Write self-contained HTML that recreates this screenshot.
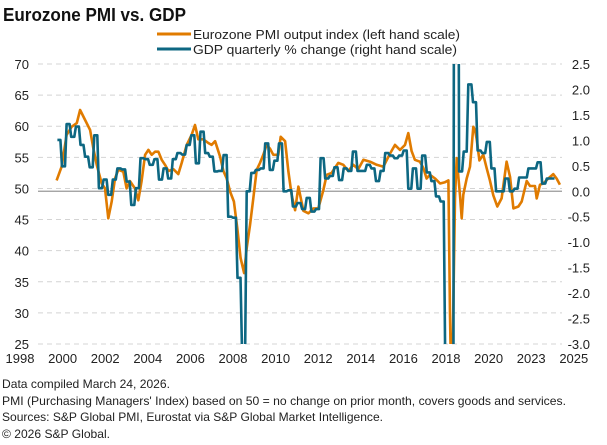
<!DOCTYPE html>
<html><head><meta charset="utf-8"><style>
html,body{margin:0;background:#fff;width:607px;height:445px;overflow:hidden;}
svg{display:block;font-family:"Liberation Sans",Arial,sans-serif;}
</style></head><body>
<svg id="chart" width="607" height="445" viewBox="0 0 607 445" xmlns="http://www.w3.org/2000/svg">
<text x="3" y="21" font-size="18" font-weight="bold" fill="#111" textLength="183" lengthAdjust="spacingAndGlyphs">Eurozone PMI vs. GDP</text>
<g>
<line x1="157" y1="34" x2="191" y2="34" stroke="#e07b00" stroke-width="3"/>
<text x="193" y="39" font-size="13" fill="#222" textLength="267" lengthAdjust="spacingAndGlyphs">Eurozone PMI output index (left hand scale)</text>
<line x1="157" y1="49" x2="191" y2="49" stroke="#0d6782" stroke-width="3"/>
<text x="193" y="54" font-size="13" fill="#222" textLength="264" lengthAdjust="spacingAndGlyphs">GDP quarterly % change (right hand scale)</text>
</g>
<g id="grid"></g><g id="axes"></g>
<defs><clipPath id="plotclip"><rect x="38" y="64" width="524" height="280"/></clipPath></defs>
<g id="series" clip-path="url(#plotclip)"></g>
<g font-size="12" fill="#222">
<text x="2" y="388" textLength="168" lengthAdjust="spacingAndGlyphs">Data compiled March 24, 2026.</text>
<text x="2" y="405" textLength="564" lengthAdjust="spacingAndGlyphs">PMI (Purchasing Managers' Index) based on 50 = no change on prior month, covers goods and services.</text>
<text x="2" y="421" textLength="381" lengthAdjust="spacingAndGlyphs">Sources: S&amp;P Global PMI, Eurostat via S&amp;P Global Market Intelligence.</text>
<text x="2" y="438" textLength="108" lengthAdjust="spacingAndGlyphs">© 2026 S&amp;P Global.</text>
</g>
</svg>
<script>
const leftTicks=[70,65,60,55,50,45,40,35,30,25];
const rightTicks=[2.5,2.0,1.5,1.0,0.5,0.0,-0.5,-1.0,-1.5,-2.0,-2.5,-3.0];
const xLabels=["1998","2000","2002","2004","2006","2008","2010","2012","2014","2016","2018","2020","2023","2025"];
const pmiDates=[1998.90,1999.17,1999.44,1999.71,1999.99,2000.17,2000.44,2000.71,2000.89,2001.07,2001.34,2001.52,2001.70,2001.88,2002.06,2002.24,2002.51,2002.69,2002.87,2003.14,2003.32,2003.50,2003.69,2003.87,2004.05,2004.23,2004.41,2004.59,2004.77,2004.95,2005.22,2005.49,2005.67,2005.94,2006.21,2006.39,2006.57,2006.84,2007.11,2007.29,2007.48,2007.75,2007.93,2008.11,2008.29,2008.50,2008.68,2008.86,2009.05,2009.19,2009.37,2009.55,2009.73,2009.91,2010.09,2010.27,2010.45,2010.63,2010.90,2011.03,2011.27,2011.45,2011.63,2011.81,2011.99,2012.26,2012.53,2012.80,2013.07,2013.34,2013.52,2013.79,2014.15,2014.42,2014.69,2014.96,2015.23,2015.51,2015.87,2016.23,2016.59,2016.95,2017.22,2017.49,2017.76,2017.94,2018.12,2018.30,2018.57,2018.75,2018.93,2019.11,2019.39,2019.66,2019.93,2020.11,2020.20,2020.29,2020.38,2020.47,2020.56,2020.74,2020.83,2020.92,2021.10,2021.28,2021.46,2021.55,2021.64,2021.79,2022.00,2022.18,2022.36,2022.54,2022.76,2022.99,2023.26,2023.45,2023.63,2023.90,2024.08,2024.35,2024.53,2024.80,2024.89,2025.07,2025.25,2025.52,2025.79,2025.97,2026.15];
const pmiValues=[51.3,53.5,58.6,59.9,60.5,62.6,61,59.4,56.4,53.8,50.8,50,45.2,47.9,51.6,53,52.7,50,51.2,50,48.1,51.2,55.4,56.2,55.4,55.9,55.9,54.6,53.8,52.8,53.1,52.3,54.1,57,58.6,60.2,57.9,57.9,57.3,57,57.6,55.1,52.8,51.6,49.5,47.9,43.6,38.8,36.4,40.4,44.1,48.4,53,54.1,55.4,57,56.4,55.4,55.4,58.3,57.6,52.7,48.9,46.5,50.3,46.4,46,46.8,46.8,49.7,52.2,52.5,54.1,53.8,52.8,53.8,53.1,54.6,54.3,53.8,53.5,55.6,57,56.2,57,58.9,56,54.6,54.3,53.3,51.6,52.2,51.6,50.8,51,51.3,29.7,13.6,31.9,48.4,54.9,48.9,45.2,49,51.6,53.5,59.9,59.4,58,54.5,55.4,53.3,51.3,48.9,47.1,48.4,54.3,51.8,46.8,47.1,47.9,51.2,50.4,50.4,48.4,50.6,50.8,51.6,52.3,51.6,50.6];
const gdpStart=1998.92;
const gdpValues=[1.01,0.49,1.32,1.07,1.27,0.91,0.68,0.47,1.1,0.06,0.23,-0.07,0.23,0.45,0.43,0.19,-0.27,0.06,0.65,0.63,0.52,0.63,0.23,0.45,0.25,0.63,0.75,0.72,0.91,1.1,0.55,1.17,0.75,0.68,0.39,0.4,0.71,-0.5,-0.52,-1.7,-3.2,0.0,0.36,0.42,0.45,0.94,0.42,0.6,0.94,0.0,0.02,-0.3,-0.23,-0.35,-0.13,-0.4,-0.35,0.65,0.25,0.3,0.47,0.22,0.45,0.4,0.78,0.4,0.4,0.52,0.45,0.2,0.4,0.75,0.7,0.65,0.7,0.8,0.05,0.45,0.05,0.7,0.37,0.2,-0.1,-0.2,-3.5,-11.6,12.5,0.39,0.78,2.1,1.75,0.8,0.75,0.97,0.45,0.0,0.0,0.25,0.0,0.05,0.27,0.27,0.45,0.45,0.57,0.15,0.25,0.25];

const NS="http://www.w3.org/2000/svg";
const X0=38,X1=562,Y0=64,Y1=344;
const xScale=t=>40+(t-1998)*18.47;
const yLeft=v=>Y0+(70-v)*(Y1-Y0)/45;
const yRight=g=>Y0+(2.5-g)*(Y1-Y0)/5.5;
function mk(tag,attrs,parent){const e=document.createElementNS(NS,tag);for(const k in attrs)e.setAttribute(k,attrs[k]);parent.appendChild(e);return e;}
const grid=document.getElementById('grid'),axes=document.getElementById('axes'),series=document.getElementById('series');

leftTicks.forEach(v=>{
  const y=yLeft(v);
  const gl=mk('line',{x1:X0,x2:X1,y1:y,y2:y,stroke:'#d4d4d4','stroke-width':1,'stroke-dasharray':'5,4'},grid);
  
  
  const t=mk('text',{x:29,y:y+5,'font-size':13,'text-anchor':'end',fill:'#222'},axes);
  t.textContent=String(v);
  
  
});
rightTicks.forEach(g=>{
  const y=yRight(g);
  const t=mk('text',{x:590,y:y+5,'font-size':13,'text-anchor':'end',fill:'#222'},axes);
  t.textContent=g.toFixed(1);
  
  
});
const zl=mk('line',{x1:X0,x2:X1,y1:yRight(0),y2:yRight(0),stroke:'#999','stroke-width':1.2},axes);


xLabels.forEach((l,i)=>{
  const t=mk('text',{x:20+i*42.6,y:363,'font-size':13,'text-anchor':'middle',fill:'#222'},axes);
  t.textContent=l;
  
  
});

let d='';
pmiDates.forEach((t,i)=>{d+=(i?'L':'M')+xScale(t).toFixed(1)+','+yLeft(pmiValues[i]).toFixed(1);});
const pp=mk('path',{d:d,fill:'none',stroke:'#e07b00','stroke-width':2.6,'stroke-linejoin':'round'},series);



let d2='';
gdpValues.forEach((g,i)=>{
  const a=xScale(gdpStart+i*0.25), b=xScale(gdpStart+(i+1)*0.25)-1.2, y=yRight(g).toFixed(1);
  d2+=(i?'L':'M')+(a+0.4).toFixed(1)+','+y+'L'+b.toFixed(1)+','+y;
});
const gp=mk('path',{d:d2,fill:'none',stroke:'#0d6782','stroke-width':2.6,'stroke-linejoin':'round'},series);


</script>
</body></html>
